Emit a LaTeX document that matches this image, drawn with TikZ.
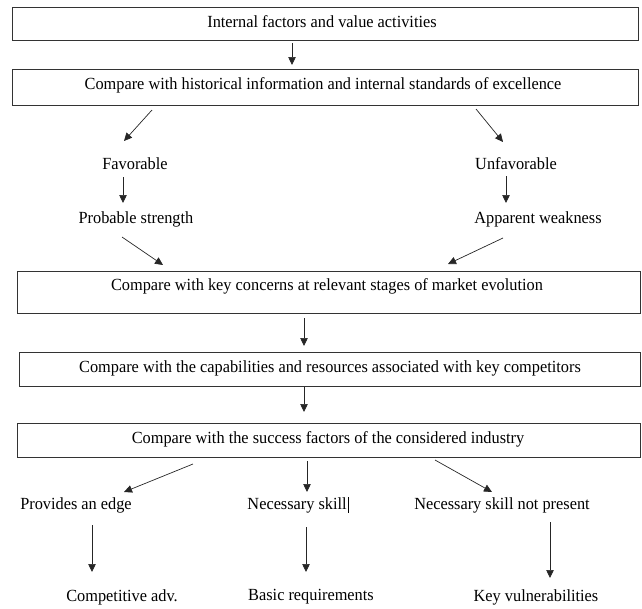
\documentclass[tikz,border=0pt]{standalone}
\usepackage{fontspec}
\setmainfont[FakeStretch=0.96]{Liberation Serif}
\usetikzlibrary{arrows.meta}
\begin{document}
\begin{tikzpicture}[x=1pt,y=-1pt,
  box/.style={draw=black!80, line width=0.9pt, rectangle, inner sep=0, anchor=north west},
  lbl/.style={font=\fontsize{17}{20}\selectfont, inner sep=1pt},
  arr/.style={-{Triangle[length=8pt,width=7.5pt]}, line width=0.7pt, draw=black!85}]
\useasboundingbox (0,0) rectangle (642,608);
% boxes
\node[box, minimum width=626pt, minimum height=33pt] (b1) at (12,7) {};
\node[box, minimum width=626pt, minimum height=36pt] (b2) at (12,69) {};
\node[box, minimum width=623pt, minimum height=42pt] (b3) at (17,271) {};
\node[box, minimum width=621pt, minimum height=34pt] (b4) at (19,352) {};
\node[box, minimum width=623pt, minimum height=34pt] (b5) at (17,423) {};
% box texts
\node[lbl] (t1) at (322,22) {Internal factors and value activities};
\node[lbl] (t2) at (323,85) {Compare with historical information and internal standards of excellence};
\node[lbl] (t3) at (327,286) {Compare with key concerns at relevant stages of market evolution};
\node[lbl] (t4) at (330,368) {Compare with the capabilities and resources associated with key competitors};
\node[lbl] (t5) at (328,439) {Compare with the success factors of the considered industry};
% free labels
\node[lbl] (fav) at (135,164) {Favorable};
\node[lbl] (unf) at (516,164) {Unfavorable};
\node[lbl] (prob) at (136,219) {Probable strength};
\node[lbl] (app) at (538,219) {Apparent weakness};
\node[lbl] (edge) at (76,505) {Provides an edge};
\node[lbl] (nec) at (298,505) {Necessary skill\kern1pt\rule[-3pt]{0.8pt}{16pt}};
\node[lbl] (nsnp) at (502,505) {Necessary skill not present};
\node[lbl] (comp) at (122,597) {Competitive adv.};
\node[lbl] (basic) at (311,597) {Basic requirements};
\node[lbl] (keyv) at (536,597) {Key vulnerabilities};
% arrow end points
\coordinate (a1s) at (292,43);  \coordinate (a1e) at (292,65);
\coordinate (a2s) at (152,110); \coordinate (a2e) at (124,141);
\coordinate (a3s) at (476,109); \coordinate (a3e) at (503,142);
\coordinate (a4s) at (123,177); \coordinate (a4e) at (123,203);
\coordinate (a5s) at (506,176); \coordinate (a5e) at (506,203);
\coordinate (a6s) at (122,237); \coordinate (a6e) at (163,265);
\coordinate (a7s) at (503,238); \coordinate (a7e) at (448,264);
\coordinate (a8s) at (304,318); \coordinate (a8e) at (304,346);
\coordinate (a9s) at (304,387); \coordinate (a9e) at (304,412);
\coordinate (a10s) at (193,464); \coordinate (a10e) at (124,492);
\coordinate (a11s) at (307,461); \coordinate (a11e) at (307,492);
\coordinate (a12s) at (435,460); \coordinate (a12e) at (492,492);
\coordinate (a13s) at (92,525); \coordinate (a13e) at (92,572);
\coordinate (a14s) at (306,527); \coordinate (a14e) at (306,572);
\coordinate (a15s) at (550,522); \coordinate (a15e) at (550,578);
\foreach \i in {1,...,15} \draw[arr] (a\i s) -- (a\i e);
\end{tikzpicture}
\end{document}
